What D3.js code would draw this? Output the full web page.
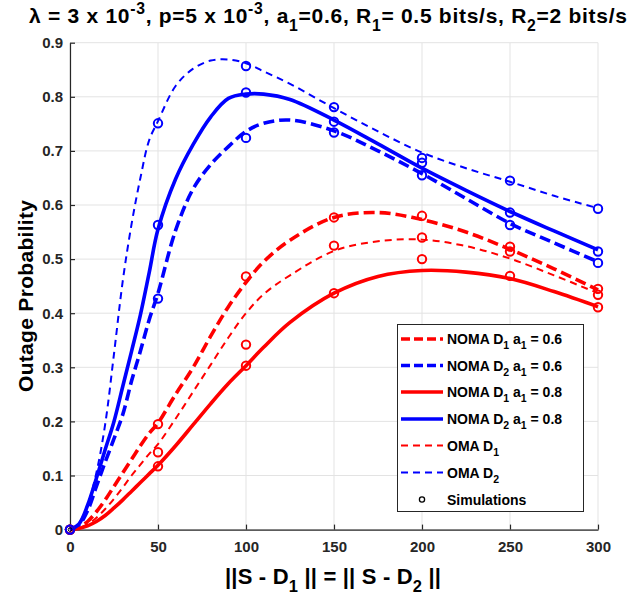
<!DOCTYPE html>
<html><head><meta charset="utf-8">
<script src="https://cdn.jsdelivr.net/npm/d3@7/dist/d3.min.js"></script>
<style>
body{margin:0;background:#fff}
text{font-family:"Liberation Sans",Arial,Helvetica,sans-serif;font-weight:bold}
</style>
</head><body>
<svg id="chart" width="640" height="599"></svg>
<script>
// ---------- data ----------
const xCurve = [0,5,10,15,20,25,30,35,40,45,50,60,70,80,90,100,110,125,150,175,200,225,250,275,300];
const nomaD1a06 = [0,0.004,0.015,0.033,0.055,0.08,0.105,0.13,0.155,0.178,0.197,0.25,0.3,0.358,0.412,0.457,0.495,0.535,0.577,0.586,0.573,0.55,0.518,0.482,0.443];
const nomaD2a06 = [0,0.008,0.035,0.08,0.125,0.168,0.213,0.275,0.33,0.388,0.437,0.553,0.63,0.675,0.708,0.736,0.751,0.757,0.737,0.7,0.658,0.612,0.566,0.53,0.495];
const nomaD1a08 = [0,0.002,0.007,0.015,0.026,0.04,0.055,0.071,0.087,0.103,0.119,0.155,0.194,0.233,0.27,0.303,0.337,0.383,0.437,0.468,0.479,0.476,0.464,0.44,0.412];
const nomaD2a08 = [0,0.01,0.045,0.095,0.148,0.2,0.265,0.33,0.397,0.475,0.555,0.648,0.712,0.763,0.797,0.805,0.805,0.795,0.757,0.713,0.668,0.627,0.588,0.552,0.517];
const omaD1 = [0,0.003,0.01,0.022,0.038,0.057,0.078,0.1,0.12,0.14,0.158,0.205,0.255,0.305,0.355,0.4,0.435,0.47,0.515,0.533,0.536,0.524,0.501,0.47,0.437];
const omaD2 = [0,0.012,0.045,0.105,0.195,0.325,0.46,0.565,0.65,0.72,0.755,0.82,0.852,0.867,0.869,0.862,0.847,0.824,0.779,0.736,0.697,0.668,0.643,0.617,0.594];

const xSim = [0,50,100,150,200,250,300];
const simNomaD1a06 = [0,0.195,0.468,0.577,0.580,0.523,0.445];
const simNomaD2a06 = [0,0.427,0.724,0.734,0.655,0.563,0.493];
const simNomaD1a08 = [0,0.117,0.303,0.437,0.500,0.469,0.411];
const simNomaD2a08 = [0,0.563,0.808,0.754,0.678,0.586,0.514];
const simOmaD1 = [0,0.143,0.342,0.525,0.540,0.514,0.434];
const simOmaD2 = [0,0.751,0.857,0.781,0.687,0.645,0.593];

const xTicks = [0,50,100,150,200,250,300];
const yTicks = [0,0.1,0.2,0.3,0.4,0.5,0.6,0.7,0.8,0.9];

// ---------- setup ----------
const svg = d3.select("#chart");
const x = d3.scaleLinear().domain([0,300]).range([70,598]);
const y = d3.scaleLinear().domain([0,0.9]).range([529.6,42.7]);
const RED = "#ff0000", BLUE = "#0000ff", AX = "#262626";

// grid
const grid = svg.append("g");
grid.selectAll(".gx").data(xTicks).join("line")
  .attr("x1", d=>x(d)).attr("x2", d=>x(d)).attr("y1", y(0)).attr("y2", y(0.9))
  .attr("stroke","#e3e3e3").attr("stroke-width",1);
grid.selectAll(".gy").data(yTicks).join("line")
  .attr("y1", d=>y(d)).attr("y2", d=>y(d)).attr("x1", x(0)).attr("x2", x(300))
  .attr("stroke","#e3e3e3").attr("stroke-width",1);

// axes
const xAxis = d3.axisBottom(x).tickValues(xTicks).tickSizeInner(-5).tickSizeOuter(0).tickPadding(12).tickFormat(d3.format("d"));
const yAxis = d3.axisLeft(y).tickValues(yTicks).tickSizeInner(-5).tickSizeOuter(0).tickPadding(7).tickFormat(d=> d===0 ? "0" : d3.format(".1f")(d));
const gx = svg.append("g").attr("transform",`translate(0,${y(0)})`).call(xAxis);
const gy = svg.append("g").attr("transform",`translate(${x(0)},0)`).call(yAxis);
[gx,gy].forEach(g=>{
  g.select(".domain").attr("stroke",AX).attr("stroke-width",1.2);
  g.selectAll(".tick line").attr("stroke",AX).attr("stroke-width",1.2);
  g.selectAll(".tick text").attr("fill",AX).style("font-size","15px").style("font-family","'Liberation Sans',Arial,sans-serif").style("font-weight","bold");
});

// ---------- curves ----------
const series = [
  {vals: omaD2, sim: simOmaD2, color: BLUE, w: 2, dash: "7,5"},
  {vals: omaD1, sim: simOmaD1, color: RED, w: 2, dash: "7,5"},
  {vals: nomaD1a06, sim: simNomaD1a06, color: RED, w: 3.6, dash: "11,5"},
  {vals: nomaD2a06, sim: simNomaD2a06, color: BLUE, w: 3.6, dash: "11,5"},
  {vals: nomaD1a08, sim: simNomaD1a08, color: RED, w: 3.6, dash: null},
  {vals: nomaD2a08, sim: simNomaD2a08, color: BLUE, w: 3.6, dash: null},
];
const line = d3.line().x(d=>x(d[0])).y(d=>y(d[1])).curve(d3.curveCatmullRom.alpha(0.5));
const gc = svg.append("g");
series.forEach(s=>{
  gc.append("path").datum(xCurve.map((xv,i)=>[xv,s.vals[i]]))
    .attr("d",line).attr("fill","none").attr("stroke",s.color)
    .attr("stroke-width",s.w).attr("stroke-dasharray",s.dash);
});
series.forEach(s=>{
  gc.selectAll(null).data(xSim.map((xv,i)=>[xv,s.sim[i]])).join("circle")
    .attr("cx",d=>x(d[0])).attr("cy",d=>y(d[1])).attr("r",4.2)
    .attr("fill","none").attr("stroke",s.color).attr("stroke-width",2);
});
svg.append("circle").attr("cx",x(0)).attr("cy",y(0)).attr("r",1.8).attr("fill","none").attr("stroke","#000").attr("stroke-width",1);

// ---------- rich text helper ----------
function rich(g, parts, size){
  const t = g.append("text").style("font-size",size+"px");
  let shift = 0;
  parts.forEach(p=>{
    let target = 0, fs = size;
    if (p.sub){ target = size*0.38; fs = size*0.75; }
    if (p.sup){ target = -size*0.45; fs = size*0.75; }
    t.append("tspan").attr("dy", target - shift).style("font-size", fs+"px").text(p.t);
    shift = target;
  });
  return t;
}
function fitWidth(t, target){
  const w = t.node().getComputedTextLength();
  const n = t.text().length;
  if (n > 1 && w < target) t.style("letter-spacing", ((target - w)/(n-1)) + "px");
}

// ---------- title ----------
const title = rich(svg.append("g"), [
  {t:"λ = 3 x 10"},{t:"-3",sup:1},{t:", p=5 x 10"},{t:"-3",sup:1},{t:", a"},{t:"1",sub:1},
  {t:"=0.6, R"},{t:"1",sub:1},{t:"= 0.5 bits/s, R"},{t:"2",sub:1},{t:"=2 bits/s"}
], 21);
title.attr("x",29).attr("y",23).attr("fill","#000");
fitWidth(title, 598);

// axis labels
const xl = rich(svg.append("g"), [{t:"||S - D"},{t:"1",sub:1},{t:" || = || S - D"},{t:"2",sub:1},{t:" ||"}], 22);
xl.attr("x",225).attr("y",584).attr("fill","#000");
fitWidth(xl, 216);
const yl = svg.append("text").attr("transform","translate(33,392) rotate(-90)")
  .style("font-size","21px").attr("fill","#000").text("Outage Probability");
fitWidth(yl, 192);

// ---------- legend ----------
const lg = svg.append("g");
lg.append("rect").attr("x",397.5).attr("y",324.5).attr("width",186).attr("height",187)
  .attr("fill","#fff").attr("stroke",AX).attr("stroke-width",1);
const legendItems = [
  {parts:[{t:"NOMA D"},{t:"1",sub:1},{t:" a"},{t:"1",sub:1},{t:" = 0.6"}], color:RED, w:3.6, dash:"9,4"},
  {parts:[{t:"NOMA D"},{t:"2",sub:1},{t:" a"},{t:"1",sub:1},{t:" = 0.6"}], color:BLUE, w:3.6, dash:"9,4"},
  {parts:[{t:"NOMA D"},{t:"1",sub:1},{t:" a"},{t:"1",sub:1},{t:" = 0.8"}], color:RED, w:3.6, dash:null},
  {parts:[{t:"NOMA D"},{t:"2",sub:1},{t:" a"},{t:"1",sub:1},{t:" = 0.8"}], color:BLUE, w:3.6, dash:null},
  {parts:[{t:"OMA D"},{t:"1",sub:1}], color:RED, w:2, dash:"7,5"},
  {parts:[{t:"OMA D"},{t:"2",sub:1}], color:BLUE, w:2, dash:"7,5"},
  {parts:[{t:"Simulations"}], marker:true},
];
const rowY = [339,365.5,392,419,445.5,472.5,499.5];
legendItems.forEach((it,i)=>{
  const yy = rowY[i];
  if (it.marker){
    lg.append("circle").attr("cx",422).attr("cy",yy).attr("r",2.6).attr("fill","none").attr("stroke","#000").attr("stroke-width",1.3);
  } else {
    lg.append("line").attr("x1",401).attr("x2",443).attr("y1",yy).attr("y2",yy)
      .attr("stroke",it.color).attr("stroke-width",it.w).attr("stroke-dasharray",it.dash);
  }
  const t = rich(lg, it.parts, 14);
  t.attr("x",447).attr("y",yy+5).attr("fill","#000");
});
</script>
</body></html>
